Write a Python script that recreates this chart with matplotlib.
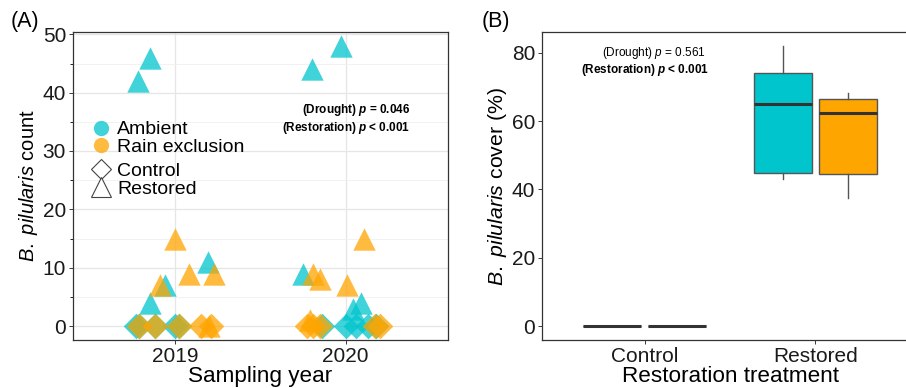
import numpy as np
import matplotlib.pyplot as plt
from matplotlib.lines import Line2D

plt.rcParams['font.family'] = ['Liberation Sans', 'DejaVu Sans']
plt.rcParams['mathtext.fontset'] = 'custom'
plt.rcParams['mathtext.rm'] = 'Liberation Sans'
plt.rcParams['mathtext.it'] = 'Liberation Sans:italic'
plt.rcParams['mathtext.bf'] = 'Liberation Sans:bold:italic'

years = ['2019', '2020']
treatments = ['Control', 'Restored']
amb_col = '#00C5CD'
rain_col = '#FFA500'
txt_col = '#1A1A1A'

# Panel A: B. pilularis counts (values + horizontal jitter)
amb_res_2019 = [42, 46, 11, 7, 4]
amb_res_2019_jit = [-0.22, -0.15, 0.19, -0.06, -0.15]
rain_res_2019 = [15, 7, 9, 9, 0]
rain_res_2019_jit = [0.0, -0.09, 0.08, 0.23, 0.20]
amb_con_2019 = [0, 0, 0, 0, 0]
amb_con_2019_jit = [-0.23, -0.12, 0.0, -0.21, 0.02]
rain_con_2019 = [0, 0, 0, 0, 0]
rain_con_2019_jit = [-0.21, -0.12, 0.02, 0.15, 0.21]

amb_res_2020 = [44, 48, 9, 3, 4]
amb_res_2020_jit = [-0.20, -0.03, -0.25, 0.04, 0.09]
rain_res_2020 = [9, 8, 7, 15, 1]
rain_res_2020_jit = [-0.19, -0.15, 0.01, 0.11, -0.21]
amb_con_2020 = [0, 0, 0, 0, 0]
amb_con_2020_jit = [0.0, 0.06, 0.13, 0.18, -0.14]
rain_con_2020 = [0, 0, 0, 0, 0]
rain_con_2020_jit = [-0.23, -0.19, -0.15, 0.17, 0.20]

# Panel B: cover (%) box stats  [whislo, q1, med, q3, whishi]
amb_control = [0, 0, 0, 0, 0]
rain_control = [0, 0, 0, 0, 0]
amb_restored = [43.1, 44.9, 65.0, 74.2, 81.9]
rain_restored = [37.4, 44.5, 62.5, 66.6, 68.1]

fig = plt.figure(figsize=(9.06, 3.88), dpi=100)
axA = fig.add_axes([73/906, 48/388, 375/906, 308/388])
axB = fig.add_axes([542/906, 48/388, 376/906, 308/388])

# ---- panel A
axA.set_xlim(0.4, 2.6)
axA.set_ylim(-2.4, 50.4)
axA.set_yticks([0, 10, 20, 30, 40, 50])
axA.set_yticks([5, 15, 25, 35, 45], minor=True)
axA.set_xticks([1, 2])
axA.set_xticklabels(years)
axA.grid(True, which='major', color='#E6E6E6', lw=0.9, zorder=0)
axA.grid(True, which='minor', axis='y', color='#F0F0F0', lw=0.6, zorder=0)
axA.set_axisbelow(True)

ms_tri = 260
ms_dia = 170
sets = [
    (1, amb_con_2019, amb_con_2019_jit, amb_col, 'D', ms_dia),
    (1, rain_con_2019, rain_con_2019_jit, rain_col, 'D', ms_dia),
    (1, amb_res_2019, amb_res_2019_jit, amb_col, '^', ms_tri),
    (1, rain_res_2019, rain_res_2019_jit, rain_col, '^', ms_tri),
    (2, amb_con_2020, amb_con_2020_jit, amb_col, 'D', ms_dia),
    (2, rain_con_2020, rain_con_2020_jit, rain_col, 'D', ms_dia),
    (2, amb_res_2020, amb_res_2020_jit, amb_col, '^', ms_tri),
    (2, rain_res_2020, rain_res_2020_jit, rain_col, '^', ms_tri),
]
for pos, vals, jit, col, mk, s in sets:
    axA.scatter(pos + np.array(jit), vals, s=s, marker=mk, color=col,
                alpha=0.75, linewidths=0, zorder=3)

axA.set_xlabel('Sampling year', fontsize=16.2, color='black', labelpad=0)
axA.set_ylabel(r'$\it{B.\ pilularis}$ count', fontsize=14.5, color='black', labelpad=2)
axA.tick_params(labelsize=15, colors=txt_col, length=3, width=0.6, pad=2)
for sp in axA.spines.values():
    sp.set_color('#333333')
    sp.set_linewidth(0.9)

h1 = [Line2D([], [], marker='o', ls='', ms=11, color=amb_col, alpha=0.75, mew=0),
      Line2D([], [], marker='o', ls='', ms=11, color=rain_col, alpha=0.75, mew=0)]
leg1 = axA.legend(h1, ['Ambient', 'Rain exclusion'], loc='upper left',
                  bbox_to_anchor=(0.05, 0.712), frameon=False, fontsize=14,
                  labelspacing=0.0, handlelength=1.0, handletextpad=0.3,
                  borderpad=0, borderaxespad=0)
axA.add_artist(leg1)
h2 = [Line2D([], [], marker='D', ls='', ms=10.5, mfc='white', mec='#444444', mew=0.8),
      Line2D([], [], marker='^', ls='', ms=14, mfc='white', mec='#444444', mew=0.8)]
axA.legend(h2, treatments, loc='upper left', bbox_to_anchor=(0.05, 0.577),
           frameon=False, fontsize=14, labelspacing=0.0, handlelength=1.0,
           handletextpad=0.3, borderpad=0, borderaxespad=0)

axA.text(2.38, 37.0, r'(Drought) $\mathbf{p}$ = 0.046', ha='right', va='center',
         fontsize=8.5, fontweight='bold', color='black')
axA.text(2.38, 34.0, r'(Restoration) $\mathbf{p}$ < 0.001', ha='right', va='center',
         fontsize=8.5, fontweight='bold', color='black')

# ---- panel B
stats = []
for vals in [amb_control, rain_control, amb_restored, rain_restored]:
    stats.append(dict(whislo=vals[0], q1=vals[1], med=vals[2], q3=vals[3],
                      whishi=vals[4], fliers=[]))
bp = axB.bxp(stats, positions=[0.81, 1.19, 1.81, 2.19], widths=0.34,
             patch_artist=True, showcaps=False, showfliers=False,
             boxprops=dict(edgecolor='#555555', lw=1.0),
             medianprops=dict(color='#333333', lw=2.2),
             whiskerprops=dict(color='#555555', lw=1.0), manage_ticks=False)
for patch, col in zip(bp['boxes'], [amb_col, rain_col, amb_col, rain_col]):
    patch.set_facecolor(col)

axB.set_xlim(0.4, 2.6)
axB.set_ylim(-4.1, 86.1)
axB.set_xticks([1, 2])
axB.set_xticklabels(treatments)
axB.set_yticks([0, 20, 40, 60, 80])
axB.set_xlabel('Restoration treatment', fontsize=16.2, color='black', labelpad=0)
axB.set_ylabel(r'$\it{B.\ pilularis}$ cover (%)', fontsize=15.3, color='black', labelpad=2)
axB.tick_params(labelsize=15, colors=txt_col, length=3, width=0.6, pad=2)
for sp in axB.spines.values():
    sp.set_color('#333333')
    sp.set_linewidth(0.9)

axB.text(1.36, 80, r'(Drought) $\mathit{p}$ = 0.561', ha='right', va='center',
         fontsize=8.5, color='black')
axB.text(1.38, 75, r'(Restoration) $\mathbf{p}$ < 0.001', ha='right', va='center',
         fontsize=8.5, fontweight='bold', color='black')

fig.text(11/906, 1 - 22/388, '(A)', fontsize=15.5, va='center', ha='left')
fig.text(482/906, 1 - 22/388, '(B)', fontsize=15.5, va='center', ha='left')

fig.savefig('out.png', dpi=100)
